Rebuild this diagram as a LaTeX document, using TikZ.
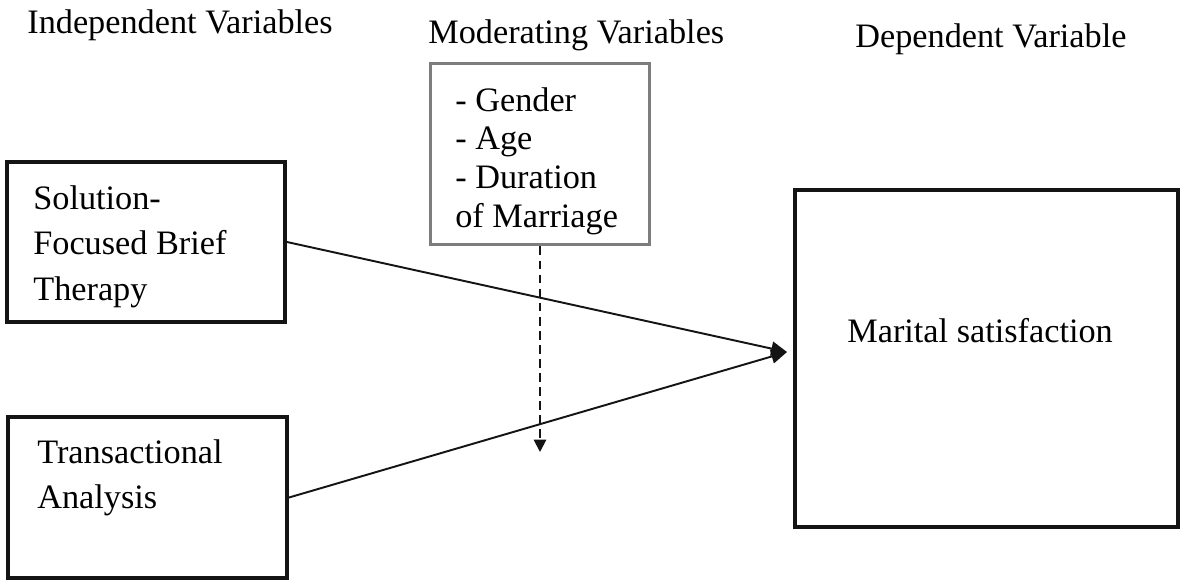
\documentclass[tikz,border=0pt]{standalone}
\usepackage{fontspec}
\setmainfont{Liberation Serif}
\usetikzlibrary{arrows.meta}
\definecolor{rahmen}{RGB}{20,20,20}
\definecolor{grauton}{RGB}{125,125,125}
\tikzset{>={Triangle[length=9pt,width=8pt]}}
\tikzset{
	varbox/.style={draw=rahmen, line width=2.3pt, inner sep=0pt},
	modbox/.style={draw=grauton, line width=1.7pt, inner sep=0pt},
	vartext/.style={inner sep=0pt, align=left, font=\fontsize{19.5}{26}\selectfont},
	modtext/.style={inner sep=0pt, align=left, font=\fontsize{19.5}{22}\selectfont},
	kopf/.style={inner sep=0pt, anchor=base west, font=\fontsize{19.5}{24}\selectfont},
	pfeilweg/.style={draw=rahmen, line width=1.1pt}
}

\begin{document}
\begin{tikzpicture}[x=0.02cm, y=-0.02cm]

	\useasboundingbox (0,0) rectangle (1181,579);

	% headings
	\node[kopf] (indep) at (27,33) {Independent Variables};
	\node[kopf] (moder) at (428,43) {Moderating Variables};
	\node[kopf] (depen) at (855,47) {Dependent Variable};

	% boxes
	\node[varbox, minimum width=5.56cm, minimum height=3.2cm] (sfbt) at (146,242) {};
	\node[vartext, anchor=north west] (sfbttext) at (33,185) {Solution-\\Focused Brief\\Therapy};

	\node[varbox, minimum width=5.58cm, minimum height=3.22cm] (ta) at (147.5,497.5) {};
	\node[vartext, anchor=north west] (tatext) at (37,439) {Transactional\\Analysis};

	\node[modbox, minimum width=4.4cm, minimum height=3.64cm] (mod) at (540,154) {};
	\node[modtext, anchor=north west] (modtext) at (455,87) {- Gender\\- Age\\- Duration\\of Marriage};

	\node[varbox, minimum width=7.66cm, minimum height=6.74cm] (ms) at (986.5,358.5) {};
	\node[kopf] (mstext) at (847,342) {Marital satisfaction};

	% connectors
	\coordinate (join) at ([shift={(-6,-6.5)}]ms.west);
	\coordinate (modtip) at (540,452);

	\draw[pfeilweg,->] (sfbt.east) -- (join);
	\draw[pfeilweg,->] (ta.east) -- (join);
	\draw[pfeilweg, dash pattern=on 5pt off 3pt, -{Triangle[length=7pt,width=7pt]}] (mod.south) -- (modtip);

\end{tikzpicture}
\end{document}
